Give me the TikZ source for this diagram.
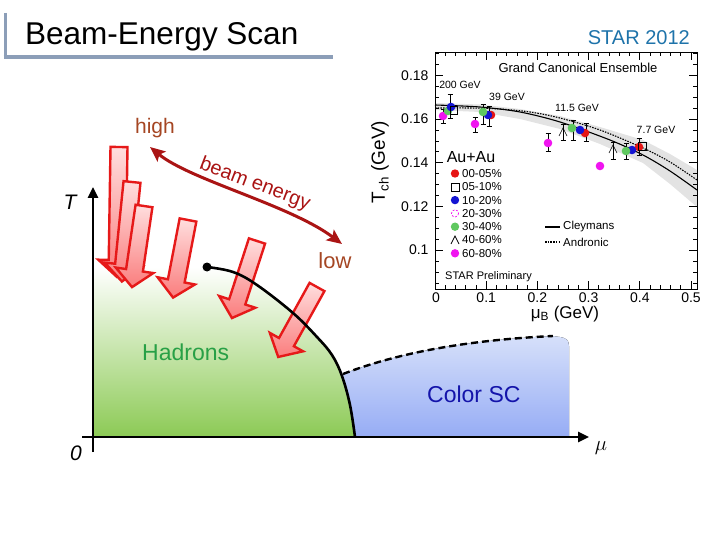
\documentclass[tikz,border=0pt]{standalone}
\usepackage{fontspec}
\setmainfont{Liberation Sans}
\usetikzlibrary{arrows.meta}
\newcommand\fsz[1]{\fontsize{#1}{#1}\selectfont}
\definecolor{titlebar}{RGB}{140,158,184}
\definecolor{starblue}{RGB}{30,115,170}
\definecolor{beamred}{RGB}{170,20,20}
\definecolor{hilo}{RGB}{165,70,35}
\definecolor{hadgreen}{RGB}{40,160,70}
\definecolor{scblue}{RGB}{20,20,170}
\definecolor{greenfill}{RGB}{140,202,85}
\definecolor{bluetop}{RGB}{214,224,250}
\definecolor{bluebot}{RGB}{150,172,245}
\definecolor{arrowred}{RGB}{230,25,25}
\definecolor{pinklight}{RGB}{255,222,222}
\definecolor{pinkdark}{RGB}{250,125,125}
\definecolor{mkred}{RGB}{230,20,20}
\definecolor{mkblue}{RGB}{20,20,210}
\definecolor{mkgreen}{RGB}{95,200,95}
\definecolor{mkmag}{RGB}{240,20,240}
\newcommand\blockarr[4]{%
  \begin{scope}[shift={(#1,#2)}, rotate=#3]
    \path[blockarrow] (-8.5,0) -- (8.5,0) -- (8.5,#4-17) -- (19,#4-17) -- (0,#4) -- (-19,#4-17) -- (-8.5,#4-17) -- cycle;
  \end{scope}}
\newcommand\errbar[3]{%
  \draw[ebar] (#1,#2) -- (#1,#3);
  \draw[ebar] (#1-2.5,#2) -- (#1+2.5,#2);
  \draw[ebar] (#1-2.5,#3) -- (#1+2.5,#3);}
\begin{document}
\begin{tikzpicture}[x=1pt,y=-1pt,
  blockarrow/.style={draw=arrowred, line width=2.4pt, line join=miter, top color=pinklight, bottom color=pinkdark},
  axisline/.style={line width=2.6pt, -{Triangle[length=11pt,width=10pt]}},
  ebar/.style={line width=0.6pt},
  tick/.style={line width=0.7pt},
  ticklbl/.style={font=\fsz{14}},
  leg/.style={font=\fsz{11.5}, anchor=west, inner sep=0pt},
  ann/.style={font=\fsz{10.5}, inner sep=0pt},
  mk/.style={circle, inner sep=0pt, minimum size=8.6pt}
]
\useasboundingbox (0,0) rectangle (720,540);

% ---------- title ----------
\draw[titlebar, line width=3pt] (5,13) -- (5,59);
\draw[titlebar, line width=4.5pt] (3.5,57) -- (333,57);
\node[anchor=base west, font=\fsz{31.5}, inner sep=0pt] (title) at (25,45) {Beam-Energy Scan};
\node[anchor=base east, font=\fsz{20}, text=starblue, inner sep=0pt] (star) at (690,45) {STAR 2012};

% ---------- STAR plot ----------
\fill[gray!22] (435,103) -- (480,104.5) -- (520,109) -- (560,116) -- (600,127) -- (643,140) -- (670,154) -- (697,170)
   -- (697,207) -- (670,184) -- (643,163) -- (600,144) -- (560,129) -- (520,119) -- (480,112) -- (435,110) -- cycle;
\draw[line width=1.1pt] plot[smooth] coordinates {(435,105) (480,107) (520,112) (560,122) (610,140) (643,155) (670,171) (697,190)};
\draw[line width=1.1pt, dash pattern=on 1.5pt off 1.2pt] plot[smooth] coordinates {(435,108) (470,108) (500,109) (530,112) (560,118) (600,130) (643,148) (670,162) (697,180)};
\draw[line width=0.8pt] (435,52) rectangle (697,289);
\foreach \i in {0,...,21} {
  \pgfmathsetmacro\ya{282.9-10.925*\i}
  \pgfmathsetmacro\tkl{ifthenelse(mod(\i,4)==3,8,4)}
  \draw[tick] (435,\ya) -- ++(\tkl,0);
  \draw[tick] (697,\ya) -- ++(-\tkl,0);
}
\foreach \i in {0,...,25} {
  \pgfmathsetmacro\xa{435+10.24*\i}
  \pgfmathsetmacro\tkl{ifthenelse(mod(\i,5)==0,8,4)}
  \draw[tick] (\xa,289) -- ++(0,-\tkl);
  \draw[tick] (\xa,52) -- ++(0,\tkl);
}
\node[ticklbl, anchor=east] (y18) at (432,75.3) {0.18};
\node[ticklbl, anchor=east] (y16) at (432,119) {0.16};
\node[ticklbl, anchor=east] (y14) at (432,162.7) {0.14};
\node[ticklbl, anchor=east] (y12) at (432,206.4) {0.12};
\node[ticklbl, anchor=east] (y10) at (432,250.1) {0.1};
\node[ticklbl] (x0) at (436,298) {0};
\node[ticklbl] (x1) at (486.2,298) {0.1};
\node[ticklbl] (x2) at (537.4,298) {0.2};
\node[ticklbl] (x3) at (588.6,298) {0.3};
\node[ticklbl] (x4) at (639.8,298) {0.4};
\node[ticklbl] (x5) at (691,298) {0.5};
\node[font=\fsz{19}, rotate=90] (ylab) at (380,162) {T\textsubscript{ch} (GeV)};
\node[font=\fsz{17}] (xlab) at (565,314) {μ\textsubscript{B} (GeV)};
\node[font=\fsz{13}] (gce) at (578,68) {Grand Canonical Ensemble};
\node[ann] (e200) at (460,85) {200 GeV};
\node[ann] (e39) at (507,97) {39 GeV};
\node[ann] (e11) at (577,108) {11.5 GeV};
\node[ann] (e7) at (656,130) {7.7 GeV};
% error bars
\errbar{443}{109}{123}
\errbar{450}{94}{118}
\errbar{475}{117}{132}
\errbar{483}{104}{124}
\errbar{489}{106}{126}
\errbar{548}{133}{151}
\errbar{563}{124}{140}
\errbar{573}{120}{140}
\errbar{586}{123}{141}
\errbar{613}{142}{159}
\errbar{626}{143}{159}
\errbar{639}{138}{155}
% markers
\fill[mkmag] (443,116) circle (4.3);
\fill[mkgreen] (448,111) circle (4.3);
\fill[mkblue] (451,107) circle (4.3);
\draw[line width=0.6pt] (450,106) rectangle (457,114);
\fill[mkmag] (475,124) circle (4.3);
\fill[mkred] (491,115) circle (4.3);
\fill[mkblue] (488,115) circle (4.3);
\fill[mkgreen] (483,112) circle (4.3);
\fill[mkmag] (548,143) circle (4.3);
\draw[line width=0.6pt] (559,136) -- (563,128) -- (567,136);
\fill[mkred] (585,133) circle (4.3);
\fill[mkblue] (580,130) circle (4.3);
\fill[mkgreen] (572,128) circle (4.3);
\fill[mkmag] (600,166) circle (4.3);
\draw[line width=0.6pt] (609,153) -- (613,145) -- (617,153);
\fill[mkred] (639,147) circle (4.3);
\draw[line width=0.6pt] (638,142) rectangle (646,150);
\fill[mkblue] (632,150) circle (4.3);
\fill[mkgreen] (626,151) circle (4.3);
% legend
\node[font=\fsz{16}] (auau) at (471,157) {Au+Au};
\fill[mkred] (455,173.5) circle (4.2);
\node[leg] (l1) at (462,173.5) {00-05\%};
\draw[line width=0.7pt] (451,183) rectangle (459,191);
\node[leg] (l2) at (462,186.8) {05-10\%};
\fill[mkblue] (455,200.1) circle (4.2);
\node[leg] (l3) at (462,200.1) {10-20\%};
\draw[mkmag, line width=0.7pt, dash pattern=on 2pt off 1.5pt] (455,213.4) circle (3.6);
\node[leg] (l4) at (462,213.4) {20-30\%};
\fill[mkgreen] (455,226.7) circle (4.2);
\node[leg] (l5) at (462,226.7) {30-40\%};
\draw[line width=0.7pt] (451,244) -- (455,236) -- (459,244);
\node[leg] (l6) at (462,240) {40-60\%};
\fill[mkmag] (455,253.3) circle (4.2);
\node[leg] (l7) at (462,253.3) {60-80\%};
\draw[line width=1.2pt] (545,227) -- (560,227);
\node[leg] (lc) at (563,227) {Cleymans};
\draw[line width=1.2pt, dash pattern=on 1.5pt off 1.2pt] (545,242) -- (560,242);
\node[leg] (la) at (563,242) {Andronic};
\node[leg, font=\fsz{11}] (prelim) at (445,277) {STAR Preliminary};

% ---------- phase diagram ----------
\fill[top color=bluetop, bottom color=bluebot] (325,380) -- (343,374) .. controls (400,352) and (470,340) .. (553,336)
   -- (560,337) .. controls (566,338) and (569,340) .. (569,346) -- (569,437) -- (325,437) -- cycle;
\fill[top color=white, bottom color=greenfill] (93,267) -- plot[smooth, tension=0.6] coordinates {(207,267) (233,272) (257,285) (293,313) (317,337) (332,355) (342,376) (350,405) (355,437)} -- (93,437) -- cycle;
\draw[line width=2.4pt, dash pattern=on 7pt off 4pt] (343,374) .. controls (400,352) and (470,340) .. (553,336);
\draw[axisline] (93,452) -- (93,187);
\draw[axisline] (82,437) -- (589,437);

\blockarr{119}{147}{-0.9}{130}
\blockarr{132}{182}{-5.8}{100}
\blockarr{144}{206}{-8.4}{82}
\blockarr{188}{220}{-10.9}{79}
\blockarr{257}{241}{-18}{81}
\blockarr{317}{287}{-29}{80}

\draw[line width=2.6pt] plot[smooth, tension=0.6] coordinates {(207,267) (233,272) (257,285) (293,313) (317,337) (332,355) (342,376) (350,405) (355,437)};
\node[circle, fill=black, inner sep=0pt, minimum size=9pt] (cp) at (207,267) {};

\coordinate (hiend) at (150,147);
\coordinate (loend) at (342,244);
\draw[beamred, line width=3pt, {Stealth[length=15pt,width=13pt,inset=3pt]}-{Stealth[length=15pt,width=13pt,inset=3pt]}] (hiend) .. controls (190,180) and (290,205) .. (loend);
\node[font=\fsz{20}, text=beamred, rotate=-21, anchor=base, inner sep=0pt] (beam) at (253,189) {beam energy};
\node[font=\fsz{21}, text=hilo, anchor=base, inner sep=0pt] (high) at (155,134) {high};
\node[font=\fsz{22}, text=hilo, anchor=base, inner sep=0pt] (low) at (335,268) {low};
\node[font=\fsz{21}\itshape, anchor=base, inner sep=0pt] (Tlab) at (70,210) {T};
\node[font=\fsz{21}\itshape, anchor=base, inner sep=0pt] (zero) at (76,460) {0};
\node[font=\fsz{22}, inner sep=0pt] (mu) at (601,448) {$\mu$};
\node[font=\fsz{23}, text=hadgreen, anchor=base west, inner sep=0pt] (had) at (142,360) {Hadrons};
\node[font=\fsz{23}, text=scblue, anchor=base west, inner sep=0pt] (csc) at (427,402) {Color SC};
\end{tikzpicture}
\end{document}
